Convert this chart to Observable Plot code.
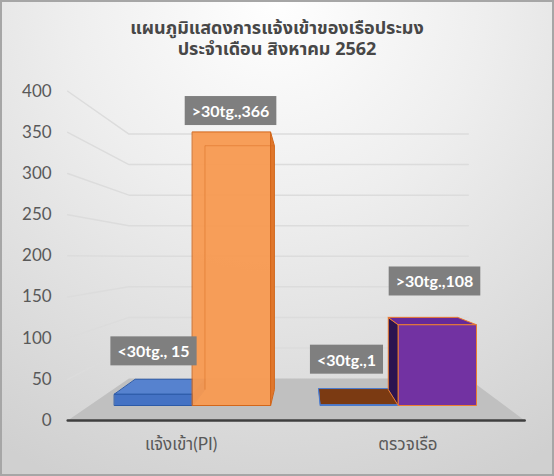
<!DOCTYPE html>
<html>
<head>
<meta charset="utf-8">
<script src="https://cdn.jsdelivr.net/npm/d3@7"></script>
<script src="https://cdn.jsdelivr.net/npm/@observablehq/plot@0.6"></script>
<style>
  html, body { margin: 0; padding: 0; background: #ffffff; }
  #wrap {
    position: relative;
    width: 554px;
    height: 476px;
    overflow: hidden;
    background: radial-gradient(ellipse 95% 110% at 50% 0%, #ffffff 0%, #eeeeee 40%, #d0d0d0 100%);
    box-shadow: inset 0 0 0 2px #a6a6a6;
  }
  #title {
    position: absolute;
    left: 0; top: 18px; width: 554px;
    text-align: center;
    white-space: pre-line;
    font-family: Tahoma, "Leelawadee UI", "Noto Sans Thai", Garuda, Loma, "DejaVu Sans", sans-serif;
    font-weight: bold;
    font-size: 18px;
    line-height: 21px;
    color: #474747;
    z-index: 2;
  }
  #chart svg { position: absolute; left: 0; top: 0; display: block; background: transparent; }
</style>
</head>
<body>
<div id="wrap">
  <div id="title"></div>
  <div id="chart"></div>
</div>
<script>
// ---- data ----
const titleLines = ["แผนภูมิแสดงการแจ้งเข้าของเรือประมง", "ประจำเดือน สิงหาคม 2562"];
const categories = ["แจ้งเข้า(PI)", "ตรวจเรือ"];
const series = ["<30tg.", ">30tg."];
const under30 = [15, 1];
const over30 = [366, 108];
const yTicks = [0, 50, 100, 150, 200, 250, 300, 350, 400];
const labelSeparators = [[", ", ","], [",", ","]];

// ---- look ----
const barStyles = [
  [ {front: "#4472c4", top: "#5682cf", side: "#2f5597", stroke: "#2c5aa8", opacity: 1},
    {front: "#f79a52", top: "#f08a3c", side: "#e0772c", stroke: "#d2661a", opacity: 0.96} ],
  [ {front: "#843c0c", top: "#7b3a12", side: "#4e2308", stroke: "#4a7bd0", opacity: 1},
    {front: "#7232a2", top: "#65299a", side: "#2c1450", stroke: "#ed7d31", opacity: 1} ]
];
const labelNudge = [[[0, -27], [-1, -20]], [[-13, -28], [-3, -35]]];

// perspective: everything projects toward a vanishing point (in data units)
const groupStep = 2.64;                 // spacing between category groups, in bar widths
const vanish = {x: 2.45, y: 198};
const depth = {bar: 0.89, wall: 0.8176, front: 1.101};
const wall = {left: -0.32, right: 5.0};

const P = (u, v, s) => ({x: vanish.x + (u - vanish.x) * s, y: vanish.y + (v - vanish.y) * s});

document.getElementById("title").textContent = titleLines.join("\n");

const bars = categories.flatMap((category, i) =>
  series.map((name, j) => ({
    category, name, i, j,
    value: j === 0 ? under30[i] : over30[i],
    x1: i * groupStep + j,
    x2: i * groupStep + j + 1
  }))
);

function faces(b) {
  const s = depth.bar, v = b.value;
  const out = [];
  if (b.x2 < vanish.x) out.push({kind: "side", pts: [{x: b.x2, y: 0}, {x: b.x2, y: v}, P(b.x2, v, s), P(b.x2, 0, s)]});
  if (b.x1 > vanish.x) out.push({kind: "side", pts: [{x: b.x1, y: 0}, {x: b.x1, y: v}, P(b.x1, v, s), P(b.x1, 0, s)]});
  if (v < vanish.y) out.push({kind: "top", pts: [{x: b.x1, y: v}, {x: b.x2, y: v}, P(b.x2, v, s), P(b.x1, v, s)]});
  out.push({kind: "front", pts: [{x: b.x1, y: 0}, {x: b.x2, y: 0}, {x: b.x2, y: v}, {x: b.x1, y: v}]});
  return out;
}

const marks = [];

// floor
const floor = [P(wall.left, 0, depth.wall), P(wall.right, 0, depth.wall), P(wall.right, 0, depth.front), P(wall.left, 0, depth.front)];
marks.push(Plot.line(floor, {x: "x", y: "y", curve: "linear-closed", fill: "#c0c0c0", stroke: "none"}));

// gridlines along the left wall and back wall
const grid = yTicks.filter(t => t > 0).flatMap(t => [
  {t, ...P(wall.left, t, depth.front)},
  {t, ...P(wall.left, t, depth.wall)},
  {t, ...P(wall.right, t, depth.wall)}
]);
marks.push(Plot.line(grid, {x: "x", y: "y", z: "t", stroke: "#dcdcdc", strokeWidth: 1.5}));

// value axis labels on the front edge of the left wall
marks.push(Plot.text(yTicks, {
  x: t => P(wall.left, t, depth.front).x,
  y: t => P(wall.left, t, depth.front).y,
  text: t => String(t),
  textAnchor: "end", dx: -16,
  fontSize: 17, fill: "#595959", fontFamily: "Lato, 'Open Sans', sans-serif"
}));

// horizontal axis line along the front edge of the floor
marks.push(Plot.line([P(wall.left, 0, depth.front), P(wall.right, 0, depth.front)], {x: "x", y: "y", stroke: "#3f3f3f", strokeWidth: 2.5}));

// bars as boxes
for (const b of bars) {
  const st = barStyles[b.i][b.j];
  for (const f of faces(b)) {
    marks.push(Plot.line(f.pts, {
      x: "x", y: "y", curve: "linear-closed",
      fill: st[f.kind], fillOpacity: f.kind === "front" ? st.opacity : 1,
      stroke: st.stroke, strokeWidth: 1, strokeLinejoin: "round"
    }));
  }
  if (b.value > vanish.y) {
    // hidden back edges showing through the translucent front face
    const s = depth.bar;
    marks.push(Plot.line([P(b.x1, 0, s), P(b.x1, b.value, s), P(b.x2, b.value, s)], {
      x: "x", y: "y", stroke: st.stroke, strokeOpacity: 0.45, strokeWidth: 1
    }));
  }
}

// category labels below the floor
marks.push(Plot.text(categories, {
  x: (d, i) => P(i * groupStep + 1, 0, depth.front).x,
  y: (d, i) => P(i * groupStep + 1, 0, depth.front).y,
  text: d => d, dy: 24,
  fontSize: 17, fill: "#595959",
  fontFamily: "Lato, Tahoma, 'Leelawadee UI', 'Noto Sans Thai', Garuda, Loma, sans-serif"
}));

// data labels
const labelPos = b => {
  const s = depth.bar;
  const topY = b.value > vanish.y ? b.value : P(b.x1, b.value, s).y;
  return {x: (b.x1 + b.x2) / 2, y: topY};
};
marks.push(Plot.text(bars, {
  x: b => labelPos(b).x,
  y: b => labelPos(b).y,
  text: b => `${b.name}${labelSeparators[b.i][b.j]}${b.value}`,
  fill: "white", fontSize: 16, fontWeight: 700,
  fontFamily: "Lato, 'Open Sans', sans-serif"
}));

const plot = Plot.plot({
  width: 554, height: 476,
  marginLeft: 114, marginRight: 78, marginTop: 106, marginBottom: 71,
  x: {domain: [0, groupStep + 2], axis: null},
  y: {domain: [0, 400], axis: null},
  style: {background: "transparent", overflow: "visible"},
  marks
});
document.getElementById("chart").append(plot);

// gray boxes behind the data labels, nudged into place
const labelGroup = [...plot.querySelectorAll('g[aria-label="text"]')].find(g => g.getAttribute("fill") === "white");
if (labelGroup) {
  const texts = [...labelGroup.querySelectorAll("text")];
  texts.forEach((t, k) => {
    const b = bars[k];
    const [ndx, ndy] = labelNudge[b.i][b.j];
    const tf = t.getAttribute("transform") || "";
    t.setAttribute("transform", `${tf} translate(${ndx},${ndy})`);
    const bb = t.getBBox();
    const r = document.createElementNS("http://www.w3.org/2000/svg", "rect");
    const cy = bb.y + bb.height / 2;
    r.setAttribute("x", bb.x - 7);
    r.setAttribute("y", cy - 14.5);
    r.setAttribute("width", bb.width + 14);
    r.setAttribute("height", 29);
    r.setAttribute("fill", "#7f7f7f");
    r.setAttribute("transform", t.getAttribute("transform"));
    labelGroup.insertBefore(r, t);
  });
}
</script>
</body>
</html>
